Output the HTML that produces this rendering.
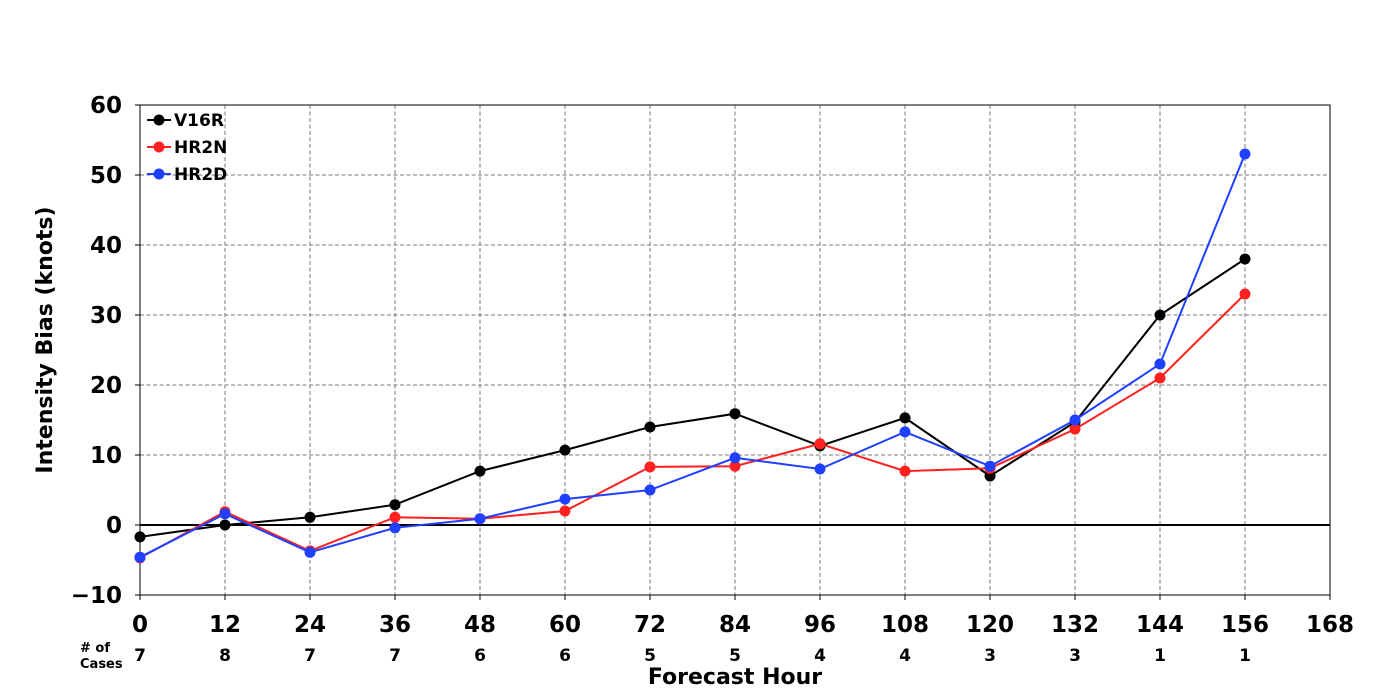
<!DOCTYPE html>
<html><head><meta charset="utf-8"><style>
html,body{margin:0;padding:0;background:#fff;}
svg{display:block;font-family:"DejaVu Sans","Liberation Sans",sans-serif;font-weight:bold;}
</style></head><body>
<svg id="chart" width="1400" height="700" viewBox="0 0 1400 700"></svg>
<script>
const hours=[0,12,24,36,48,60,72,84,96,108,120,132,144,156];
const xTicks=[0,12,24,36,48,60,72,84,96,108,120,132,144,156,168];
const yTicks=[-10,0,10,20,30,40,50,60];
const cases=[7,8,7,7,6,6,5,5,4,4,3,3,1,1];
const v16r=[-1.7,0,1.1,2.9,7.7,10.7,14,15.9,11.3,15.3,7,14.7,30,38];
const hr2n=[-4.7,1.9,-3.7,1.1,0.9,2,8.3,8.4,11.6,7.7,8.1,13.7,21,33];
const hr2d=[-4.6,1.6,-3.9,-0.4,0.9,3.7,5,9.6,8,13.3,8.4,15,23,53];
const seriesNames=["V16R","HR2N","HR2D"];
const seriesColors=["#000000","#ff2020","#2040ff"];

const NS="http://www.w3.org/2000/svg";
const svg=document.getElementById("chart");
const L=140,R=1330,T=105,B=595;
const x=h=>L+(h-0)/(168-0)*(R-L);
const y=v=>B-(v-(-10))/(60-(-10))*(B-T);
function el(tag,attrs,parent){const e=document.createElementNS(NS,tag);for(const k in attrs)e.setAttribute(k,attrs[k]);(parent||svg).appendChild(e);return e;}

const grid=el("g",{});


xTicks.forEach(t=>{if(t>0&&t<168)el("line",{x1:x(t),x2:x(t),y1:T,y2:B,stroke:"#777","stroke-dasharray":"4,2.5","stroke-width":1},grid);});
yTicks.forEach(t=>{if(t>-10&&t<60&&t!==0)el("line",{x1:L,x2:R,y1:y(t),y2:y(t),stroke:"#777","stroke-dasharray":"4,2.5","stroke-width":1},grid);});
const zero=el("line",{x1:L,x2:R,y1:y(0),y2:y(0),stroke:"#000","stroke-width":2});


const frame=el("rect",{x:L,y:T,width:R-L,height:B-T,fill:"none",stroke:"#000","stroke-width":1});



const xAxis=el("g",{});


xTicks.forEach(t=>{
  el("line",{x1:x(t),x2:x(t),y1:B,y2:B+5,stroke:"#000"},xAxis);
  const tx=el("text",{x:x(t),y:B+37,"text-anchor":"middle","font-size":23},xAxis);
  tx.textContent=t;
  
  
});
const yAxis=el("g",{});


yTicks.forEach(t=>{
  el("line",{x1:L-5,x2:L,y1:y(t),y2:y(t),stroke:"#000"},yAxis);
  const tx=el("text",{x:L-18,y:y(t)+8,"text-anchor":"end","font-size":23},yAxis);
  tx.textContent=t<0?"\u2212"+Math.abs(t):t;
  
  
});
const yt=el("text",{x:0,y:0,"text-anchor":"middle","font-size":22,transform:`translate(52,${(T+B)/2-10}) rotate(-90)`});
yt.textContent="Intensity Bias (knots)";


const xt=el("text",{x:(L+R)/2,y:684,"text-anchor":"middle","font-size":22});
xt.textContent="Forecast Hour";



const cl=el("text",{x:80,y:652,"font-size":13});
cl.textContent="# of";


const cl2=el("text",{x:80,y:668,"font-size":13});
cl2.textContent="Cases";


hours.forEach((h,i)=>{
  const c=el("text",{x:x(h),y:661,"text-anchor":"middle","font-size":17});
  c.textContent=cases[i];
  
  
});

[v16r,hr2n,hr2d].forEach((vals,si)=>{
  const g=el("g",{});
  
  
  el("polyline",{points:vals.map((v,i)=>x(hours[i])+","+y(v)).join(" "),fill:"none",stroke:seriesColors[si],"stroke-width":2},g);
  vals.forEach((v,i)=>{
    const c=el("circle",{cx:x(hours[i]),cy:y(v),r:5.5,fill:seriesColors[si]},g);
    
    
  });
});

const lg=el("g",{});


seriesNames.forEach((n,i)=>{
  const yy=120+i*27;
  const e=el("g",{},lg);
  
  
  el("line",{x1:147,x2:171,y1:yy,y2:yy,stroke:seriesColors[i],"stroke-width":2},e);
  el("circle",{cx:159,cy:yy,r:5.5,fill:seriesColors[i]},e);
  const t=el("text",{x:174,y:yy+6,"font-size":17},e);
  t.textContent=n;
});
</script>
</body></html>
